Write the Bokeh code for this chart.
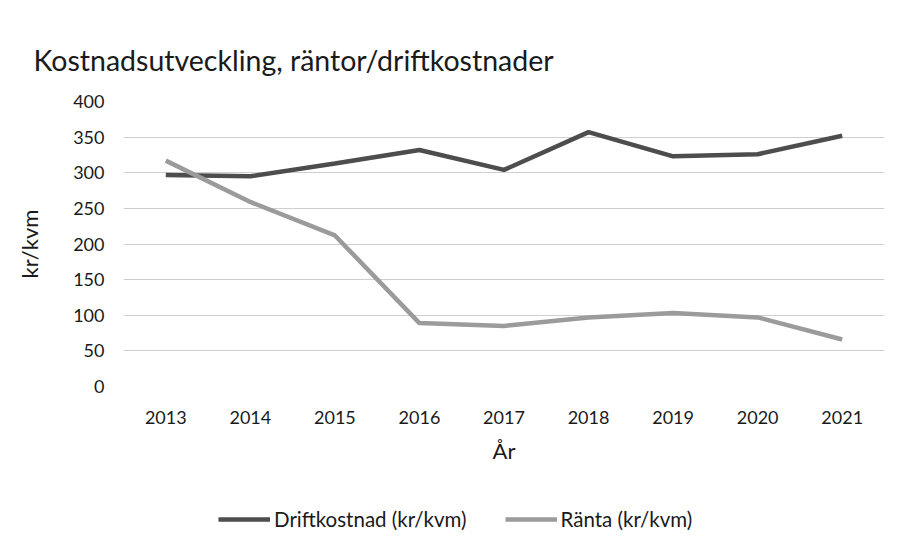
from bokeh.plotting import figure
from bokeh.layouts import column
from bokeh.models import FactorRange, Range1d, Legend, LegendItem, SingleIntervalTicker
from bokeh.embed import file_html
from bokeh.resources import INLINE

years = ["2013", "2014", "2015", "2016", "2017", "2018", "2019", "2020", "2021"]
driftkostnad = [297, 295, 313, 332, 304, 357, 323, 326, 352]
ranta = [317, 259, 212, 89, 85, 97, 103, 97, 66]
series_labels = ["Driftkostnad (kr/kvm)", "Ränta (kr/kvm)"]

FONT = "Lato"
C1, C2 = "#4d4d4d", "#9b9b9b"

p = figure(
    x_range=FactorRange(*years), y_range=Range1d(0, 400),
    frame_width=761, frame_height=285,
    min_border_left=123, min_border_right=7, min_border_top=101, min_border_bottom=85,
    output_backend="svg", toolbar_location=None,
    title="Kostnadsutveckling, räntor/driftkostnader",
)
p.title.text_font = FONT
p.title.text_font_size = "28.5px"
p.title.text_font_style = "normal"
p.title.text_color = "#1a1a1a"
p.title.offset = -90
p.title.standoff = 50

p.line(years, driftkostnad, line_color=C1, line_width=4.5)
p.line(years, ranta, line_color=C2, line_width=4.5)

p.yaxis.ticker = SingleIntervalTicker(interval=50)
for ax in (p.xaxis[0], p.yaxis[0]):
    ax.axis_line_color = None
    ax.major_tick_line_color = None
    ax.minor_tick_line_color = None
    ax.major_label_text_font = FONT
    ax.major_label_text_font_size = "18px"
    ax.major_label_text_color = "#1a1a1a"
    ax.axis_label_text_font = FONT
    ax.axis_label_text_font_size = "22px"
    ax.axis_label_text_font_style = "normal"
    ax.axis_label_text_color = "#1a1a1a"

p.yaxis.axis_label = "kr/kvm"
p.yaxis.major_label_standoff = 13
p.yaxis.axis_label_standoff = 27
p.xaxis.axis_label = "År"
p.xaxis.major_label_standoff = 18
p.xaxis.axis_label_standoff = 10

p.xgrid.grid_line_color = None
p.ygrid.grid_line_color = "#cfcfcf"
p.ygrid.grid_line_width = 1
p.outline_line_color = None

# legend strip below the chart
p2 = figure(
    x_range=FactorRange(*years), y_range=Range1d(1000, 1001),
    width=891, height=72, min_border=0,
    x_axis_type=None, y_axis_type=None,
    output_backend="svg", toolbar_location=None,
)
p2.outline_line_color = None
p2.grid.grid_line_color = None
l1 = p2.line(years, driftkostnad, line_color=C1, line_width=4.5)
l2 = p2.line(years, ranta, line_color=C2, line_width=4.5)

legend = Legend(
    items=[LegendItem(label=series_labels[0], renderers=[l1]),
           LegendItem(label=series_labels[1], renderers=[l2])],
    orientation="horizontal", location=(95, 12),
    label_text_font=FONT, label_text_font_size="20.5px", label_text_color="#1a1a1a",
    glyph_width=52, glyph_height=20, label_standoff=4, spacing=38,
    border_line_color=None, background_fill_alpha=0, padding=0, margin=0,
)
p2.add_layout(legend, "center")

open("out.html", "w").write(file_html(column(p, p2, spacing=0), INLINE))
